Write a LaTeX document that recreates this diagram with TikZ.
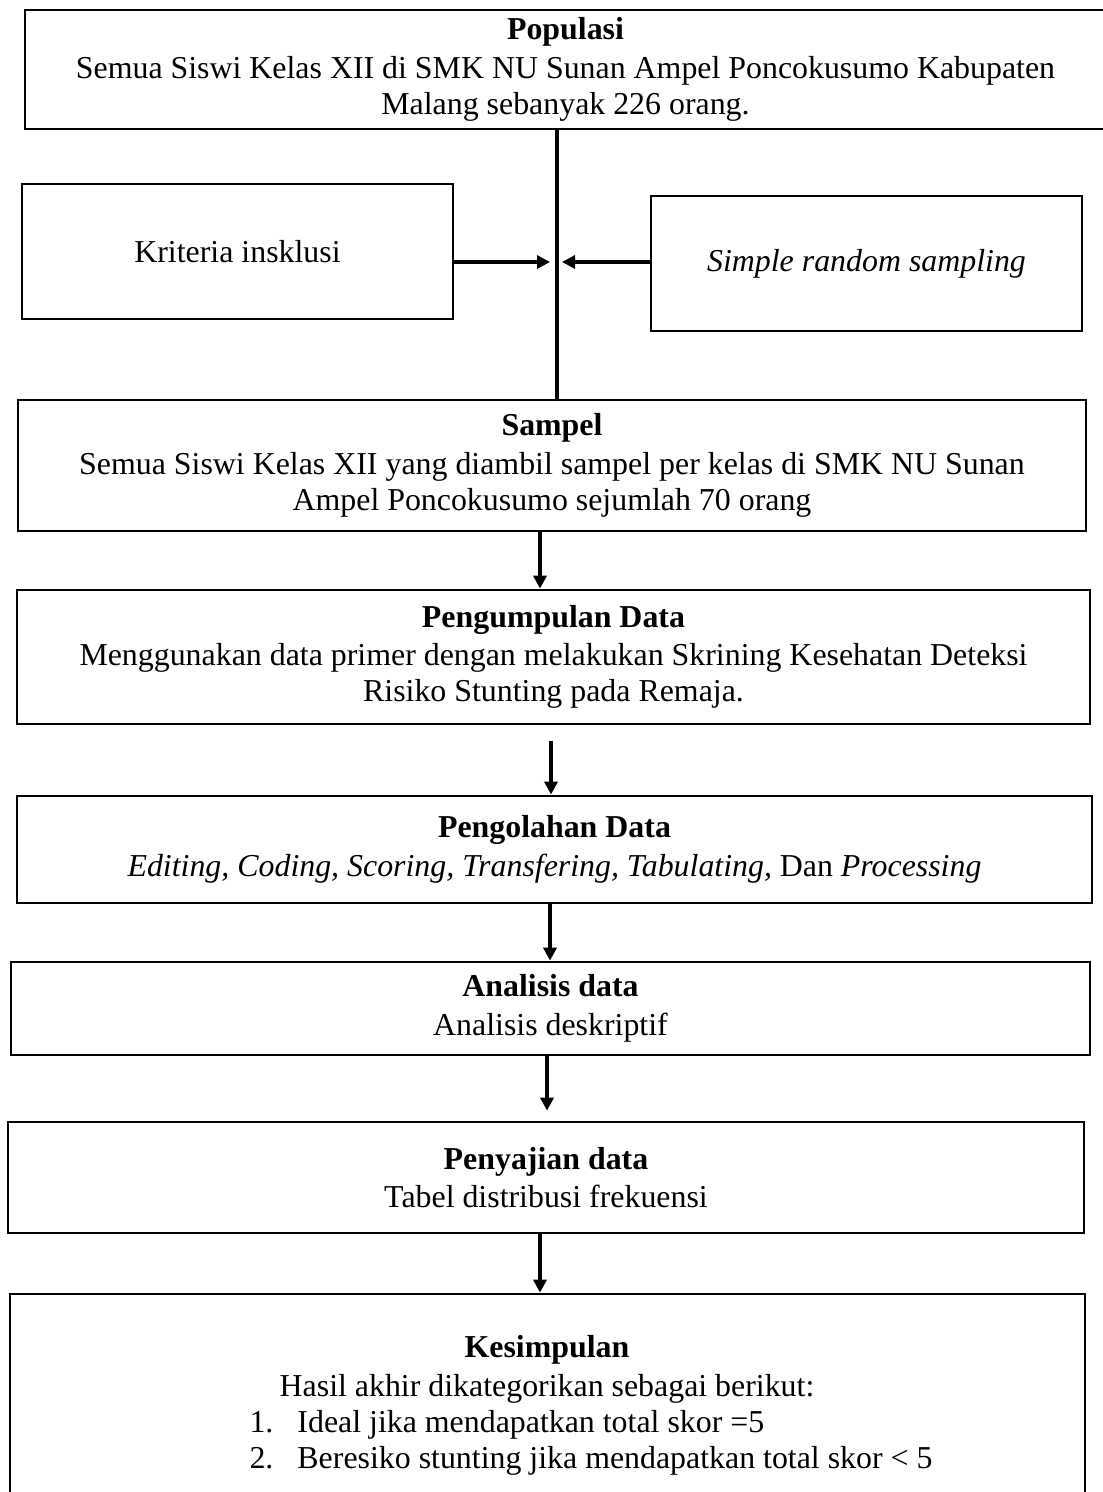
\documentclass[tikz,border=0pt]{standalone}
\usepackage{fontspec}
\setmainfont{Liberation Serif}
\usetikzlibrary{arrows.meta}
\newcommand\myfs{\fontsize{12.75pt}{14.4pt}\selectfont}
\tikzset{
  box/.style={draw, line width=1.1pt, inner sep=0pt, align=center, font=\myfs},
  txt/.style={inner sep=0pt, font=\myfs, text height=8.8pt, text depth=2.6pt},
  arr/.style={-{Triangle[length=5.2pt,width=5.2pt]}, line width=1.3pt},
  vline/.style={line width=1.5pt}
}
\begin{document}
\begin{tikzpicture}[x=0.4pt,y=-0.4pt]
\useasboundingbox (0,0) rectangle (1102,1492);
\fill[white] (0,0) rectangle (1102,1492);

\node[box, minimum width=432.4pt, minimum height=47.6pt] (pop) at (565.5,69.5)
  {\textbf{Populasi}\\[1pt]Semua Siswi Kelas XII di SMK NU Sunan Ampel Poncokusumo Kabupaten\\Malang sebanyak 226 orang.};
\node[box, minimum width=172.4pt, minimum height=54pt] (kri) at (237.5,251.5) {Kriteria insklusi};
\node[box, minimum width=172.4pt, minimum height=54pt] (srs) at (866.5,263.5) {\textit{Simple random sampling}};
\node[box, minimum width=427.2pt, minimum height=52.4pt] (sam) at (552,465.5)
  {\textbf{Sampel}\\[1pt]Semua Siswi Kelas XII yang diambil sampel per kelas di SMK NU Sunan\\Ampel Poncokusumo sejumlah 70 orang};
\node[box, minimum width=429.2pt, minimum height=53.6pt] (pgm) at (553.5,657)
  {\textbf{Pengumpulan Data}\\[1pt]Menggunakan data primer dengan melakukan Skrining Kesehatan Deteksi\\Risiko Stunting pada Remaja.};
\node[box, minimum width=430pt, minimum height=42.8pt] (pgl) at (554.5,849.5)
  {\textbf{Pengolahan Data}\\[1pt]\textit{Editing, Coding, Scoring, Transfering, Tabulating,} Dan \textit{Processing}};
\node[box, minimum width=431.6pt, minimum height=37.2pt] (ana) at (550.5,1008.5)
  {\textbf{Analisis data}\\[1pt]Analisis deskriptif};
\node[box, minimum width=430.4pt, minimum height=44.4pt] (pny) at (546,1177.5)
  {\textbf{Penyajian data}\\[1pt]Tabel distribusi frekuensi};
\node[box, minimum width=430pt, minimum height=90.4pt] (kes) at (547.5,1407) {};

\node[txt] (kt) at (547,1350) {\textbf{Kesimpulan}};
\node[txt] (kh) at (547,1389) {Hasil akhir dikategorikan sebagai berikut:};
\node[txt, anchor=west] (k1) at (249,1425) {\makebox[19.2pt][l]{1.}Ideal jika mendapatkan total skor =5};
\node[txt, anchor=west] (k2) at (249,1461) {\makebox[19.2pt][l]{2.}Beresiko stunting jika mendapatkan total skor < 5};

% junction
\coordinate (jx) at (557,262);
\coordinate (ja) at (550,262);
\coordinate (jb) at (562,262);
\draw[vline] (jx |- pop.south) -- (jx |- sam.north);
\draw[arr] (kri.east |- ja) -- (ja);
\draw[arr] (srs.west |- jb) -- (jb);

% vertical arrows
\coordinate (x1) at (540,0);
\coordinate (x2) at (551,0);
\coordinate (x3) at (550,0);
\coordinate (x4) at (547,0);
\coordinate (x5) at (540,0);
\draw[arr] (x1 |- sam.south) -- (x1 |- pgm.north);
\draw[arr, shorten <=6.4pt] (x2 |- pgm.south) -- (x2 |- pgl.north);
\draw[arr] (x3 |- pgl.south) -- (x3 |- ana.north);
\draw[arr, shorten >=4pt] (x4 |- ana.south) -- (x4 |- pny.north);
\draw[arr] (x5 |- pny.south) -- (x5 |- kes.north);
\end{tikzpicture}
\end{document}
